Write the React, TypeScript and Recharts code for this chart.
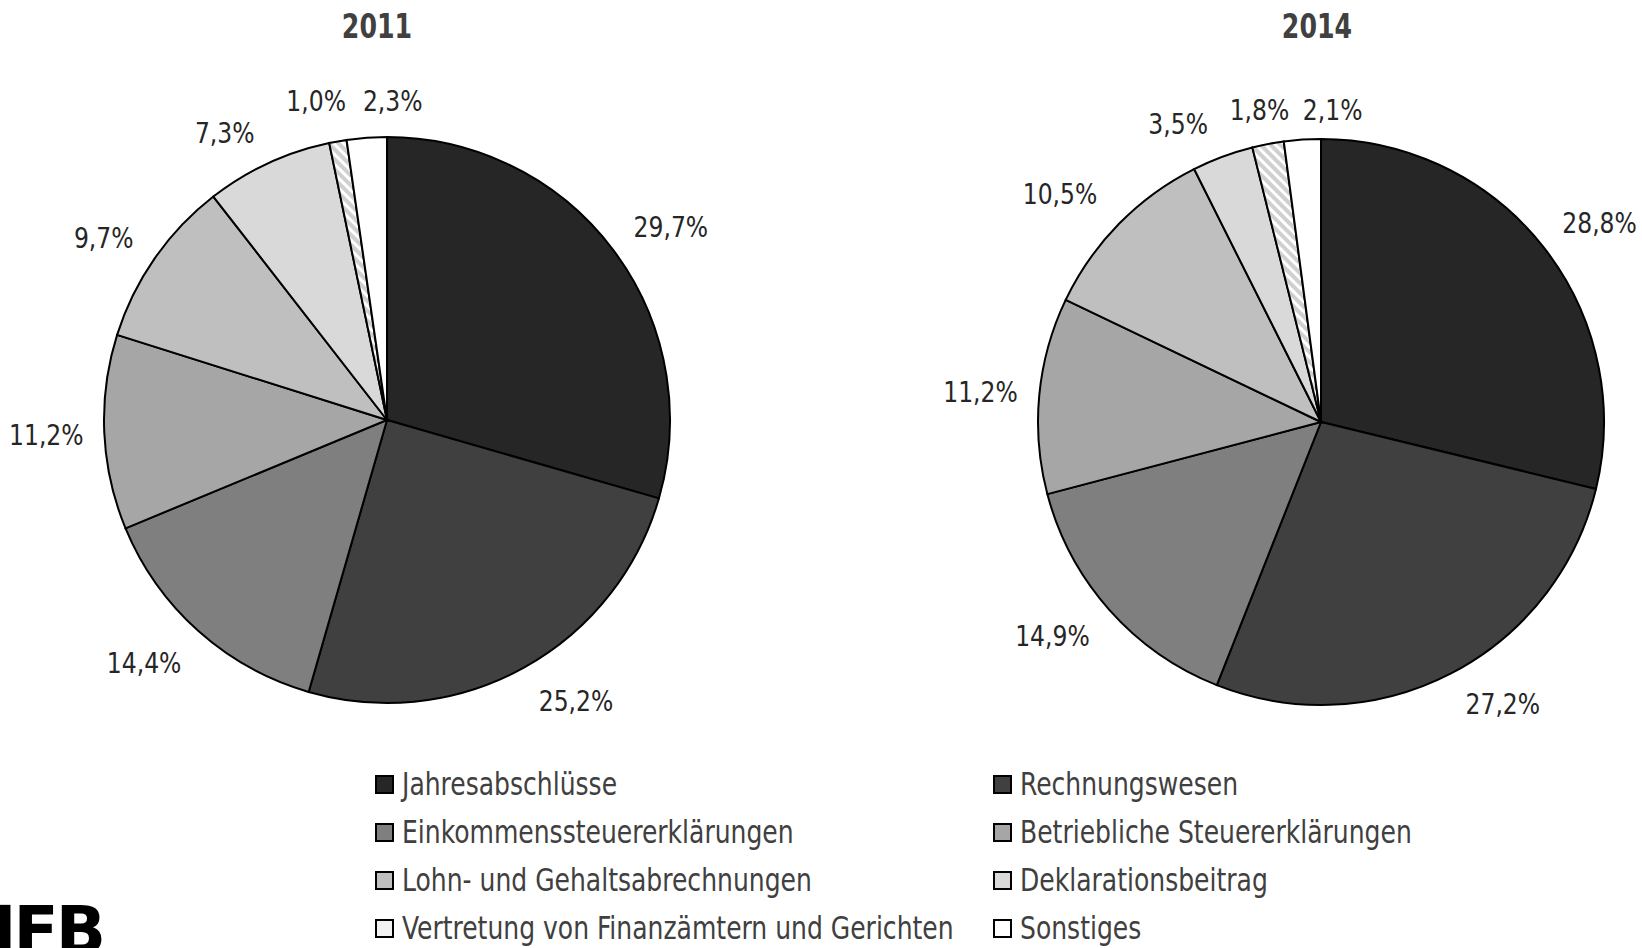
import React from 'react';
import { PieChart, Pie, Cell } from 'recharts';

const categories = [
  'Jahresabschlüsse',
  'Rechnungswesen',
  'Einkommenssteuererklärungen',
  'Betriebliche Steuererklärungen',
  'Lohn- und Gehaltsabrechnungen',
  'Deklarationsbeitrag',
  'Vertretung von Finanzämtern und Gerichten',
  'Sonstiges',
];
const values2011 = [29.7, 25.2, 14.4, 11.2, 9.7, 7.3, 1.0, 2.3];
const values2014 = [28.8, 27.2, 14.9, 11.2, 10.5, 3.5, 1.8, 2.1];
const years = ['2011', '2014'];

const fills = ['#262626', '#404040', '#7f7f7f', '#a6a6a6', '#bfbfbf', '#d9d9d9', 'url(#hatch)', '#ffffff'];
const legendFills = ['#262626', '#404040', '#7f7f7f', '#a6a6a6', '#bfbfbf', '#d9d9d9', '#f2f2f2', '#ffffff'];

const FONT = '"Liberation Sans Narrow", "DejaVu Sans Condensed", "Arial Narrow", sans-serif';
const RAD = Math.PI / 180;

// label nudges (px) for readability, like the original's best-fit placement
const nudges2011 = [[13, 11], [25, -16], [-17, -10], [-2, 0], [-5, 12], [-20, 21], [-12, 15], [30, 19]];
const nudges2014 = [[12, 10], [26, -19], [-15, -11], [-3, 2], [-19, 9], [-25, 20], [2, 21], [34, 26]];

const build = (vals: number[]) => categories.map((name, i) => ({ name, value: vals[i] }));
const fmt = (v: number) => v.toFixed(1).replace('.', ',') + '%';

const makeLabel = (nudges: number[][]) => (props: any) => {
  const { cx, cy, midAngle, outerRadius, index, value } = props;
  const r = outerRadius + 56;
  const x = cx + r * Math.cos(-midAngle * RAD) + nudges[index][0];
  const y = cy + r * Math.sin(-midAngle * RAD) + nudges[index][1];
  return (
    <g transform={`translate(${x},${y}) scale(0.9,1)`}>
      <text x={0} y={0} textAnchor="middle" dominantBaseline="central" fill="#262626" fontSize={29} fontFamily={FONT}>
        {fmt(value)}
      </text>
    </g>
  );
};

export default function App() {
  const pies = [
    { data: build(values2011), cx: 387, cy: 420, nudges: nudges2011, tx: 377 },
    { data: build(values2014), cx: 1321, cy: 422, nudges: nudges2014, tx: 1317 },
  ];
  const legendRows = [0, 2, 4, 6];
  return (
    <div style={{ position: 'fixed', left: 0, top: 0, width: 1642, height: 948, overflow: 'hidden', background: '#fff', fontFamily: FONT }}>
      <svg width={0} height={0} style={{ position: 'absolute' }}>
        <defs>
          <pattern id="hatch" patternUnits="userSpaceOnUse" width={7} height={7} patternTransform="rotate(-45)">
            <rect width={7} height={7} fill="#d0d0d0" />
            <rect width={3} height={7} fill="#ffffff" />
          </pattern>
        </defs>
      </svg>
      {years.map((y, i) => (
        <div key={y} style={{ position: 'absolute', left: pies[i].tx - 60, width: 120, top: 5, textAlign: 'center', fontSize: 33, fontWeight: 'bold', color: '#404040', lineHeight: '44px', transform: 'scaleX(0.85)' }}>
          {y}
        </div>
      ))}
      <div style={{ position: 'absolute', left: 0, top: 0 }}>
        <PieChart width={1642} height={948} margin={{ top: 0, right: 0, bottom: 0, left: 0 }}>
          {pies.map((p, k) => (
            <Pie
              key={k}
              data={p.data}
              dataKey="value"
              nameKey="name"
              cx={p.cx}
              cy={p.cy}
              outerRadius={283}
              startAngle={90}
              endAngle={-270}
              stroke="#000"
              strokeWidth={2}
              isAnimationActive={false}
              labelLine={false}
              label={makeLabel(p.nudges)}
            >
              {p.data.map((d, i) => (
                <Cell key={i} fill={fills[i]} />
              ))}
            </Pie>
          ))}
        </PieChart>
      </div>
      {legendRows.map((li, row) => (
        <React.Fragment key={row}>
          {[li, li + 1].map((ci, col) => (
            <div key={ci} style={{ position: 'absolute', left: col === 0 ? 375 : 993, top: 764 + row * 48, height: 40, display: 'flex', alignItems: 'center', whiteSpace: 'nowrap' }}>
              <span style={{ display: 'inline-block', width: 15, height: 15, background: legendFills[ci], border: '2px solid #000', marginRight: 8 }} />
              <span style={{ fontSize: 32, color: '#404040', display: 'inline-block', transform: 'scaleX(0.87)', transformOrigin: 'left center' }}>{categories[ci]}</span>
            </div>
          ))}
        </React.Fragment>
      ))}
      <div style={{ position: 'absolute', left: -8, top: 896, fontFamily: '"DejaVu Sans", sans-serif', fontWeight: 900, fontSize: 66, lineHeight: '70px', color: '#000', letterSpacing: -3 }}>
        IFB
      </div>
    </div>
  );
}
